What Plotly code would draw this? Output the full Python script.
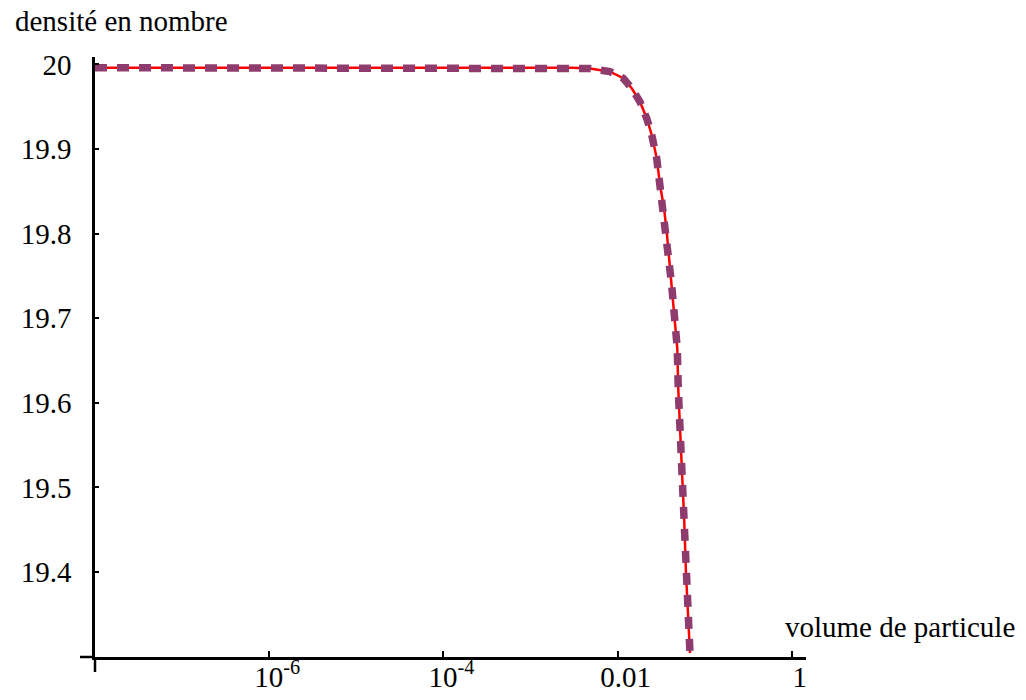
import plotly.graph_objects as go

# ---- data ----
volume = [1e-8, 1e-7, 1e-6, 1e-5, 1e-4, 1e-3, 0.0030, 0.00482, 0.00818, 0.01161, 0.01452,
          0.01806, 0.02158, 0.02466, 0.02812, 0.03069, 0.03412, 0.03664, 0.03890,
          0.04178, 0.04446, 0.04842, 0.04977, 0.05297, 0.05585, 0.05834, 0.06095,
          0.06383, 0.06776]
densite_exacte = [19.996, 19.996, 19.996, 19.996, 19.996, 19.996, 19.996, 19.995, 19.9914,
                  19.9836, 19.9717, 19.9559, 19.9363, 19.9165, 19.889, 19.8574, 19.8299,
                  19.8022, 19.7708, 19.7392, 19.7077, 19.6644, 19.6151, 19.556, 19.4969,
                  19.4579, 19.3988, 19.359, 19.3043]
densite_numerique = [19.996, 19.996, 19.996, 19.996, 19.996, 19.996, 19.996, 19.995, 19.9914,
                     19.9836, 19.9717, 19.9559, 19.9363, 19.9165, 19.889, 19.8574, 19.8299,
                     19.8022, 19.7708, 19.7392, 19.7077, 19.6644, 19.6151, 19.556, 19.4969,
                     19.4579, 19.3988, 19.359, 19.3043]

x_tickvals = [1e-6, 1e-4, 0.01, 1]
x_ticktext = ["10<sup>-6</sup>", "10<sup>-4</sup>", "0.01", "1"]
y_tickvals = [19.4, 19.5, 19.6, 19.7, 19.8, 19.9, 20.0]
y_ticktext = ["19.4", "19.5", "19.6", "19.7", "19.8", "19.9", "20"]

FONT = "Liberation Serif, Times New Roman, serif"
RED = "#ff0000"
PURPLE = "rgb(142,60,110)"

fig = go.Figure()
fig.add_trace(go.Scatter(x=volume, y=densite_exacte, mode="lines",
                         line=dict(color=RED, width=2.5), showlegend=False))
fig.add_trace(go.Scatter(x=volume, y=densite_numerique, mode="lines",
                         line=dict(color=PURPLE, width=7.5, dash="12px,10px"),
                         showlegend=False))

fig.update_layout(
    width=1026, height=700,
    margin=dict(l=95, r=220, t=57, b=43, autoexpand=False),
    paper_bgcolor="white", plot_bgcolor="white",
    font=dict(family=FONT, size=29, color="black"),
    xaxis=dict(type="log", range=[-8, 0.163], showgrid=False, zeroline=False,
               automargin=False,
               showline=True, linecolor="black", linewidth=2.5,
               tickvals=x_tickvals, ticktext=x_ticktext,
               tickfont=dict(family=FONT, size=29, color="black"),
               ticks="inside", ticklen=6, tickwidth=2, tickcolor="black",
               ticklabelstandoff=-8, ticklabelshift=8),
    yaxis=dict(range=[19.2995, 20.0087], showgrid=False, zeroline=False,
               automargin=False,
               showline=True, linecolor="black", linewidth=2.5,
               tickvals=y_tickvals, ticktext=y_ticktext,
               tickfont=dict(family=FONT, size=29, color="black"),
               ticks="inside", ticklen=4, tickwidth=2, tickcolor="black",
               ticklabelstandoff=15),
    shapes=[
        dict(type="line", xref="paper", yref="paper", x0=-0.0211, x1=0, y0=0, y1=0,
             line=dict(color="black", width=2.5)),
        dict(type="line", xref="paper", yref="paper", x0=0, x1=0, y0=-0.025, y1=0,
             line=dict(color="black", width=2.5)),
    ],
    annotations=[
        dict(text="densité en nombre", xref="paper", yref="paper",
             x=-0.1153, y=1.06, xanchor="left", yanchor="middle",
             showarrow=False, font=dict(family=FONT, size=29, color="black")),
        dict(text="volume de particule", xref="paper", yref="paper",
             x=0.9677, y=0.05, xanchor="left", yanchor="middle",
             showarrow=False, font=dict(family=FONT, size=29, color="black")),
    ],
)

fig.write_html("out.html")
